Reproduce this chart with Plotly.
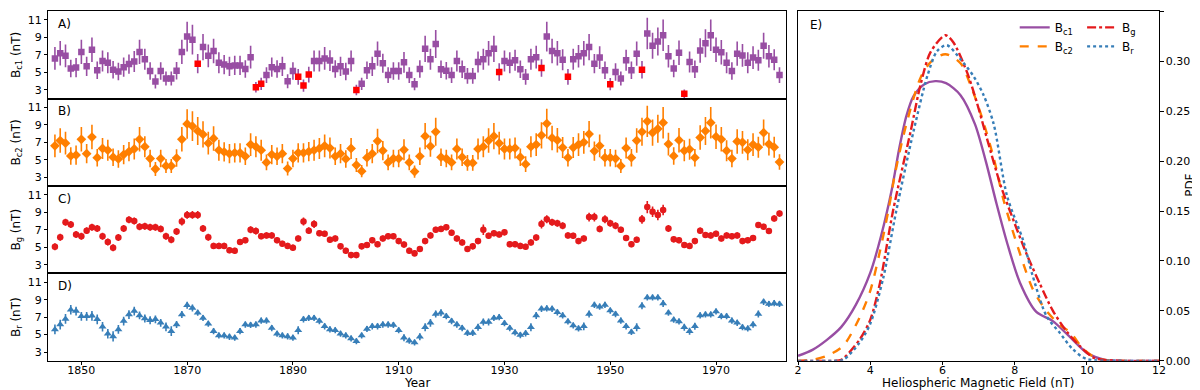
import plotly.graph_objects as go

# ---------------- data ----------------
years = list(range(1845, 1983))

bc1 = [
    6.6, 7.2, 6.9, 5.45, 5.55, 7.35, 5.7, 7.6, 5.25, 6.3,
    6.1, 5.3, 5.1, 5.6, 5.95, 6.25, 7.35, 6.5, 5.15, 3.95,
    5.15, 4.3, 4.3, 5.2, 7.35, 9.1, 8.75, 6.0, 7.9, 6.9,
    7.45, 6.1, 5.9, 5.7, 5.8, 5.8, 5.4, 6.75, 3.3, 3.7,
    4.7, 5.6, 5.4, 5.7, 4.0, 5.15, 4.5, 3.5, 4.75, 6.3,
    6.3, 6.6, 6.35, 5.4, 5.7, 5.1, 6.3, 3.0, 3.7, 5.25,
    5.7, 7.15, 6.05, 4.7, 5.15, 5.15, 6.15, 4.7, 3.65, 5.4,
    7.7, 6.5, 8.25, 5.35, 5.2, 4.7, 6.3, 5.35, 4.6, 4.6,
    6.2, 6.5, 7.2, 7.7, 5.05, 6.3, 6.1, 6.4, 5.35, 4.5,
    6.5, 6.75, 5.5, 9.1, 7.45, 7.2, 6.45, 4.5, 6.5, 6.85,
    7.2, 7.9, 6.0, 6.7, 5.25, 3.65, 5.05, 4.3, 6.4, 5.25,
    7.15, 5.3, 9.45, 8.05, 8.55, 9.25, 6.85, 5.45, 7.25, 2.55,
    6.2, 5.35, 7.5, 8.35, 9.25, 7.6, 7.3, 6.1, 5.15, 7.15,
    6.95, 6.1, 6.7, 6.4, 8.05, 6.85, 6.45, 4.7,
]
err_c1 = [
    1.3, 1.4, 1.3, 1.0, 1.1, 1.4, 1.1, 1.4, 1.0, 1.2,
    1.2, 1.0, 1.0, 1.1, 1.1, 1.2, 1.4, 1.2, 1.0, 0.8,
    1.0, 0.8, 0.8, 1.0, 1.4, 1.7, 1.7, 1.1, 1.5, 1.3,
    1.4, 1.2, 1.1, 1.1, 1.1, 1.1, 1.0, 1.3, 0.6, 0.7,
    0.9, 1.1, 1.0, 1.1, 0.8, 1.0, 0.9, 0.7, 0.9, 1.2,
    1.2, 1.3, 1.2, 1.0, 1.1, 1.0, 1.2, 0.6, 0.7, 1.0,
    1.1, 1.4, 1.1, 0.9, 1.0, 1.0, 1.2, 0.9, 0.7, 1.0,
    1.5, 1.2, 1.6, 1.0, 1.0, 0.9, 1.2, 1.0, 0.9, 0.9,
    1.2, 1.2, 1.4, 1.5, 1.0, 1.2, 1.2, 1.2, 1.0, 0.9,
    1.2, 1.3, 1.0, 1.7, 1.4, 1.4, 1.2, 0.9, 1.2, 1.3,
    1.4, 1.5, 1.1, 1.3, 1.0, 0.7, 1.0, 0.8, 1.2, 1.0,
    1.4, 1.0, 1.8, 1.5, 1.6, 1.8, 1.3, 1.0, 1.4, 0.5,
    1.2, 1.0, 1.4, 1.6, 1.8, 1.4, 1.4, 1.2, 1.0, 1.4,
    1.3, 1.2, 1.3, 1.2, 1.5, 1.3, 1.2, 0.9,
]
red_years = [1872, 1883, 1884, 1891, 1892, 1893, 1902,
             1929, 1937, 1942, 1950, 1956, 1964]

bc2 = [
    6.6, 7.2, 6.9, 5.45, 5.55, 7.35, 5.7, 7.6, 5.25, 6.3,
    6.1, 5.3, 5.1, 5.6, 5.95, 6.25, 7.35, 6.5, 5.15, 3.95,
    5.15, 4.3, 4.3, 5.2, 7.35, 9.1, 8.85, 8.3, 7.9, 6.9,
    7.45, 6.1, 5.9, 5.7, 5.8, 5.8, 5.4, 6.75, 6.5, 6.1,
    4.7, 5.6, 5.4, 5.7, 4.0, 5.15, 5.8, 5.8, 5.95, 6.1,
    6.3, 6.6, 6.35, 5.4, 5.7, 5.1, 6.3, 4.4, 3.7, 5.25,
    5.7, 7.15, 6.05, 4.7, 5.15, 5.15, 6.15, 4.7, 3.65, 5.4,
    7.7, 6.55, 8.2, 5.3, 5.15, 4.7, 6.25, 5.3, 4.65, 4.65,
    6.25, 6.5, 7.2, 7.7, 6.9, 6.25, 6.25, 6.35, 5.3, 4.5,
    6.5, 6.75, 7.8, 9.15, 7.5, 7.25, 6.4, 5.25, 6.4, 6.75,
    7.0, 7.95, 6.0, 6.6, 5.25, 5.25, 5.15, 4.3, 6.35, 5.25,
    7.2, 8.2, 9.4, 8.1, 8.55, 9.25, 6.8, 5.45, 7.25, 6.05,
    6.2, 5.25, 7.55, 8.3, 9.25, 7.65, 7.35, 6.05, 5.15, 7.1,
    7.0, 6.15, 6.75, 6.45, 8.1, 6.8, 6.45, 4.75,
]
err_c2 = [
    1.3, 1.4, 1.3, 1.0, 1.1, 1.4, 1.1, 1.4, 1.0, 1.2,
    1.2, 1.0, 1.0, 1.1, 1.1, 1.2, 1.4, 1.2, 1.0, 0.8,
    1.0, 0.8, 0.8, 1.0, 1.4, 1.7, 1.7, 1.6, 1.5, 1.3,
    1.4, 1.2, 1.1, 1.1, 1.1, 1.1, 1.0, 1.3, 1.2, 1.2,
    0.9, 1.1, 1.0, 1.1, 0.8, 1.0, 1.1, 1.1, 1.1, 1.2,
    1.2, 1.3, 1.2, 1.0, 1.1, 1.0, 1.2, 0.8, 0.7, 1.0,
    1.1, 1.4, 1.1, 0.9, 1.0, 1.0, 1.2, 0.9, 0.7, 1.0,
    1.5, 1.2, 1.6, 1.0, 1.0, 0.9, 1.2, 1.0, 0.9, 0.9,
    1.2, 1.2, 1.4, 1.5, 1.3, 1.2, 1.2, 1.2, 1.0, 0.9,
    1.2, 1.3, 1.5, 1.7, 1.4, 1.4, 1.2, 1.0, 1.2, 1.3,
    1.3, 1.5, 1.1, 1.3, 1.0, 1.0, 1.0, 0.8, 1.2, 1.0,
    1.4, 1.6, 1.8, 1.5, 1.6, 1.8, 1.3, 1.0, 1.4, 1.2,
    1.2, 1.0, 1.4, 1.6, 1.8, 1.4, 1.4, 1.2, 1.0, 1.4,
    1.3, 1.2, 1.3, 1.2, 1.5, 1.3, 1.2, 0.9,
]

bg = [
    5.05, 6.15, 7.85, 7.6, 6.45, 6.25, 6.9, 7.3, 7.15, 6.25,
    5.6, 4.95, 6.1, 7.15, 8.15, 8.0, 7.35, 7.4, 7.3, 7.3,
    7.1, 6.25, 5.85, 6.8, 7.95, 8.7, 8.7, 8.7, 7.15, 6.15,
    5.15, 5.15, 5.15, 4.65, 4.6, 5.6, 5.8, 7.0, 6.85, 6.25,
    6.35, 6.35, 5.8, 5.4, 5.15, 4.95, 6.0, 7.95, 6.9, 7.65,
    6.6, 6.55, 5.85, 6.0, 5.1, 4.6, 4.1, 4.1, 5.1, 5.25,
    5.8, 5.35, 6.0, 6.25, 6.25, 5.7, 5.3, 4.6, 4.3, 4.8,
    5.7, 6.35, 7.0, 7.1, 7.3, 6.65, 6.0, 5.55, 4.8, 5.1,
    5.7, 7.0, 6.3, 6.6, 6.45, 6.7, 5.35, 5.35, 5.15, 5.05,
    5.55, 6.1, 7.65, 8.2, 7.85, 7.75, 7.45, 6.35, 6.3, 5.7,
    6.0, 8.45, 8.45, 7.1, 8.2, 7.75, 7.45, 7.0, 6.05, 5.35,
    5.85, 8.2, 9.6, 9.05, 8.7, 9.25, 7.15, 5.9, 5.8, 5.25,
    5.15, 5.7, 6.9, 6.4, 6.35, 6.55, 6.0, 6.35, 6.25, 6.35,
    5.7, 5.8, 6.05, 7.55, 7.35, 6.85, 8.3, 8.85,
]
err_g = [
    0.4, 0.4, 0.4, 0.4, 0.4, 0.4, 0.4, 0.4, 0.4, 0.4,
    0.4, 0.4, 0.4, 0.4, 0.4, 0.4, 0.4, 0.4, 0.4, 0.4,
    0.4, 0.4, 0.4, 0.4, 0.45, 0.45, 0.45, 0.45, 0.4, 0.4,
    0.35, 0.35, 0.35, 0.35, 0.35, 0.35, 0.35, 0.4, 0.4, 0.35,
    0.35, 0.35, 0.35, 0.35, 0.35, 0.35, 0.35, 0.45, 0.4, 0.45,
    0.35, 0.35, 0.35, 0.35, 0.35, 0.35, 0.35, 0.35, 0.35, 0.35,
    0.35, 0.35, 0.35, 0.35, 0.35, 0.35, 0.35, 0.35, 0.35, 0.35,
    0.35, 0.35, 0.35, 0.35, 0.35, 0.35, 0.35, 0.35, 0.35, 0.35,
    0.35, 0.6, 0.35, 0.35, 0.35, 0.35, 0.35, 0.35, 0.35, 0.35,
    0.35, 0.35, 0.5, 0.45, 0.4, 0.4, 0.4, 0.35, 0.35, 0.35,
    0.35, 0.5, 0.5, 0.4, 0.45, 0.4, 0.4, 0.35, 0.35, 0.35,
    0.35, 0.5, 0.7, 0.6, 0.6, 0.6, 0.4, 0.35, 0.35, 0.35,
    0.35, 0.35, 0.35, 0.35, 0.35, 0.35, 0.35, 0.35, 0.35, 0.35,
    0.35, 0.35, 0.35, 0.35, 0.35, 0.35, 0.35, 0.35,
]

br = [
    5.6, 6.15, 6.8, 7.85, 7.7, 7.1, 7.1, 7.15, 6.75, 5.9,
    5.1, 4.8, 5.6, 6.55, 7.3, 7.7, 7.2, 6.85, 6.65, 6.75,
    6.35, 5.9, 5.4, 6.15, 7.3, 8.35, 8.05, 7.5, 6.9, 6.25,
    5.4, 4.9, 4.9, 4.75, 4.65, 5.4, 6.15, 6.1, 6.15, 6.6,
    6.6, 5.75, 5.1, 4.9, 4.8, 4.65, 5.5, 6.75, 6.9, 6.9,
    6.55, 5.95, 5.6, 5.5, 5.1, 4.9, 4.55, 4.25, 4.9, 5.65,
    5.95, 5.95, 6.15, 6.15, 6.1, 5.5, 4.65, 4.3, 4.1, 4.75,
    5.85, 6.35, 7.35, 7.5, 7.1, 6.55, 6.15, 5.75, 5.2, 5.2,
    5.85, 6.45, 6.45, 6.9, 7.0, 6.3, 5.75, 5.25, 4.95, 5.15,
    5.85, 7.2, 7.95, 8.0, 7.95, 7.55, 7.2, 6.5, 6.05, 5.7,
    5.95, 7.35, 8.4, 8.2, 8.4, 7.75, 7.35, 6.6, 5.95, 5.3,
    5.85, 8.3, 9.25, 9.25, 9.25, 8.55, 7.5, 6.7, 6.5, 5.85,
    5.4, 5.95, 7.2, 7.3, 7.3, 7.65, 7.1, 7.1, 6.6, 6.35,
    5.85, 5.7, 6.15, 7.35, 8.75, 8.5, 8.6, 8.5,
]
err_r = [
    0.55, 0.55, 0.55, 0.55, 0.5, 0.5, 0.5, 0.55, 0.55, 0.55,
    0.55, 0.6, 0.5, 0.5, 0.5, 0.5, 0.45, 0.45, 0.45, 0.45,
    0.45, 0.5, 0.55, 0.4, 0.4, 0.4, 0.4, 0.35, 0.35, 0.35,
    0.35, 0.35, 0.35, 0.35, 0.35, 0.35, 0.35, 0.35, 0.35, 0.35,
    0.35, 0.35, 0.35, 0.35, 0.35, 0.35, 0.45, 0.35, 0.35, 0.35,
    0.35, 0.35, 0.35, 0.35, 0.35, 0.35, 0.35, 0.35, 0.35, 0.35,
    0.35, 0.35, 0.35, 0.35, 0.35, 0.35, 0.4, 0.35, 0.35, 0.4,
    0.45, 0.45, 0.4, 0.4, 0.35, 0.35, 0.35, 0.35, 0.35, 0.35,
    0.4, 0.4, 0.4, 0.35, 0.35, 0.35, 0.35, 0.35, 0.35, 0.35,
    0.45, 0.4, 0.35, 0.35, 0.35, 0.35, 0.35, 0.35, 0.35, 0.35,
    0.45, 0.4, 0.35, 0.35, 0.35, 0.35, 0.35, 0.35, 0.35, 0.35,
    0.45, 0.4, 0.35, 0.35, 0.35, 0.4, 0.35, 0.35, 0.35, 0.4,
    0.4, 0.4, 0.35, 0.35, 0.35, 0.35, 0.35, 0.35, 0.35, 0.35,
    0.35, 0.35, 0.35, 0.4, 0.35, 0.35, 0.35, 0.35,
]

# PDF curves (panel E)
pdf_x_c1 = [2.0, 2.4, 2.8, 3.2, 3.6, 4.0, 4.3, 4.6, 4.8, 5.0, 5.2, 5.5, 5.8, 6.1,
            6.5, 6.9, 7.2, 7.5, 7.8, 8.15, 8.6, 9.05, 9.5, 10.0, 10.5, 11.0, 12.0]
pdf_y_c1 = [0.005, 0.011, 0.021, 0.034, 0.056, 0.088, 0.125, 0.172, 0.212, 0.245, 0.265,
            0.277, 0.280, 0.278, 0.266, 0.237, 0.200, 0.157, 0.117, 0.078, 0.049,
            0.040, 0.025, 0.008, 0.001, 0.0, 0.0]
pdf_x_c2 = [2.0, 2.4, 2.8, 3.25, 3.7, 4.0, 4.27, 4.5, 4.7, 5.0, 5.4, 5.7, 6.08, 6.5,
            6.8, 7.1, 7.42, 7.7, 8.15, 8.5, 8.88, 9.25, 9.55, 9.9, 10.3, 11.0, 12.0]
pdf_y_c2 = [0.0, 0.001, 0.005, 0.015, 0.043, 0.07, 0.11, 0.15, 0.19, 0.237, 0.284,
            0.300, 0.307, 0.298, 0.274, 0.243, 0.203, 0.160, 0.107, 0.072, 0.050,
            0.036, 0.028, 0.012, 0.002, 0.0, 0.0]
pdf_x_g = [2.0, 3.0, 3.2, 3.7, 4.0, 4.27, 4.63, 5.12, 5.39, 5.67, 6.08, 6.3, 6.68,
           6.95, 7.23, 7.6, 7.87, 8.33, 8.7, 9.06, 9.43, 9.8, 10.2, 11.0, 12.0]
pdf_y_g = [0.0, 0.0, 0.001, 0.021, 0.041, 0.078, 0.15, 0.23, 0.276, 0.309, 0.326,
           0.319, 0.289, 0.259, 0.223, 0.177, 0.150, 0.107, 0.077, 0.050, 0.030,
           0.015, 0.003, 0.0, 0.0]
pdf_x_r = [2.0, 3.0, 3.25, 3.7, 4.0, 4.36, 4.72, 5.2, 5.58, 5.85, 6.12, 6.5, 6.86,
           7.14, 7.42, 7.79, 8.24, 8.5, 8.88, 9.25, 9.6, 9.98, 11.0, 12.0]
pdf_y_r = [0.0, 0.0, 0.001, 0.018, 0.037, 0.083, 0.15, 0.23, 0.285, 0.310, 0.316,
           0.302, 0.285, 0.266, 0.237, 0.165, 0.120, 0.085, 0.045, 0.028, 0.012,
           0.002, 0.0, 0.0]

year_ticks = [1850, 1870, 1890, 1910, 1930, 1950, 1970]
left_yticks = [3, 5, 7, 9, 11]
pdf_xticks = [2, 4, 6, 8, 10, 12]
pdf_yticks = [0.0, 0.05, 0.10, 0.15, 0.20, 0.25, 0.30, 0.35]

# ---------------- style ----------------
W, H = 1200, 390
PURPLE, ORANGE, RED, BLUE = "#984ea3", "#ff7f00", "#e41a1c", "#377eb8"
FONT = "DejaVu Sans"


def fx(p):
    return p / W


def fy(p):
    return 1 - p / H


X_LEFT, X_RIGHT = 36.7, 781.0
panel_px = [(3.3, 92.3), (92.3, 181.3), (181.3, 270.3), (270.3, 359.3)]

fig = go.Figure()

marker_colors_a = ["red" if y in red_years else PURPLE for y in years]

series = [
    (bc1, err_c1, "square", 6.5, marker_colors_a, PURPLE, "B<sub>c1</sub> (nT)", "A)"),
    (bc2, err_c2, "diamond", 7.5, ORANGE, ORANGE, "B<sub>c2</sub> (nT)", "B)"),
    (bg, err_g, "circle", 6.5, RED, RED, "B<sub>g</sub> (nT)", "C)"),
    (br, err_r, "triangle-up", 7, BLUE, BLUE, "B<sub>r</sub> (nT)", "D)"),
]

axis_common = dict(showline=True, linecolor="black", linewidth=1, mirror=True,
                   showgrid=False, zeroline=False,
                   tickfont=dict(family=FONT, size=11, color="black"))
title_font = dict(family=FONT, size=12, color="black")

for i, (vals, errs, sym, msize, mcol, ecol, ytitle, lab) in enumerate(series):
    n = i + 1
    xa = "x" if n == 1 else f"x{n}"
    ya = "y" if n == 1 else f"y{n}"
    fig.add_trace(go.Scatter(
        x=years, y=vals, mode="markers", xaxis=xa, yaxis=ya, showlegend=False,
        marker=dict(symbol=sym, size=msize, color=mcol, line=dict(width=0)),
        error_y=dict(type="data", array=errs, visible=True, color=ecol,
                     thickness=1.6, width=0),
    ))
    top, bot = panel_px[i]
    xkey = "xaxis" if n == 1 else f"xaxis{n}"
    ykey = "yaxis" if n == 1 else f"yaxis{n}"
    xdict = dict(axis_common, domain=[fx(X_LEFT), fx(X_RIGHT)], anchor=ya,
                 range=[1843.76, 1983.2], tickvals=year_ticks)
    if n < 4:
        xdict.update(showticklabels=False, ticks="", matches="x4")
    else:
        xdict.update(ticks="outside", ticklen=3.5, tickwidth=0.8, tickcolor="black",
                     ticklabelstandoff=-5)
    fig.layout[xkey] = xdict
    fig.layout[ykey] = dict(axis_common, domain=[fy(bot), fy(top)], anchor=xa,
                            range=[2, 12], tickvals=left_yticks, ticks="outside",
                            ticklen=3.5, tickwidth=0.8, tickcolor="black",
                            title=dict(text=ytitle, standoff=4, font=title_font))
    fig.add_annotation(text=lab, xref="paper", yref="paper", x=fx(44), y=fy(top + 13),
                       xanchor="left", yanchor="middle", showarrow=False,
                       font=dict(family=FONT, size=12, color="black"))

# axis titles placed as text in paper coordinates
fig.add_annotation(text="Year", xref="paper", yref="paper",
                   x=fx((X_LEFT + X_RIGHT) / 2), y=fy(381.5),
                   xanchor="center", yanchor="middle", showarrow=False, font=title_font)
fig.add_annotation(text="Heliospheric Magnetic Field (nT)", xref="paper", yref="paper",
                   x=fx((793.3 + 1157.7) / 2), y=fy(382.0),
                   xanchor="center", yanchor="middle", showarrow=False, font=title_font)
fig.add_annotation(text="PDF", xref="paper", yref="paper", textangle=-90,
                   x=fx(1189), y=fy(181),
                   xanchor="center", yanchor="middle", showarrow=False, font=title_font)

# ---------------- panel E ----------------
pdf_series = [
    (pdf_x_c1, pdf_y_c1, "B<sub>c1</sub>", PURPLE, "solid", "legend"),
    (pdf_x_c2, pdf_y_c2, "B<sub>c2</sub>", ORANGE, "dash", "legend"),
    (pdf_x_g, pdf_y_g, "B<sub>g</sub>", RED, "dashdot", "legend2"),
    (pdf_x_r, pdf_y_r, "B<sub>r</sub>", BLUE, "dot", "legend2"),
]
for xs, ys, name, col, dash, leg in pdf_series:
    fig.add_trace(go.Scatter(
        x=xs, y=ys, mode="lines", name=name, xaxis="x5", yaxis="y5", legend=leg,
        line=dict(color=col, width=2.4, dash=dash, shape="spline", smoothing=0.8),
    ))

fig.layout["xaxis5"] = dict(axis_common, domain=[fx(793.3), fx(1157.7)], anchor="y5",
                            range=[2, 12], tickvals=pdf_xticks, ticks="outside",
                            ticklen=3.5, tickwidth=0.8, tickcolor="black",
                            ticklabelstandoff=-5)
fig.layout["yaxis5"] = dict(axis_common, domain=[fy(359.3), fy(3.3)], anchor="x5",
                            side="right", range=[0, 0.35], tickvals=pdf_yticks,
                            tickformat=".2f", ticks="outside", ticklen=3.5, tickwidth=0.8,
                            tickcolor="black")
fig.add_annotation(text="E)", xref="paper", yref="paper", x=fx(803), y=fy(17),
                   xanchor="left", yanchor="middle", showarrow=False,
                   font=dict(family=FONT, size=12, color="black"))

legend_common = dict(bgcolor="rgba(0,0,0,0)", borderwidth=0, tracegroupgap=0,
                     font=dict(family=FONT, size=12, color="black"),
                     xanchor="left", yanchor="top", itemwidth=30)
fig.update_layout(
    width=W, height=H,
    margin=dict(l=0, r=0, t=0, b=0),
    paper_bgcolor="white", plot_bgcolor="white",
    font=dict(family=FONT, size=11, color="black"),
    legend=dict(legend_common, x=fx(1012), y=fy(5)),
    legend2=dict(legend_common, x=fx(1080), y=fy(5)),
)

fig.write_html("out.html")
